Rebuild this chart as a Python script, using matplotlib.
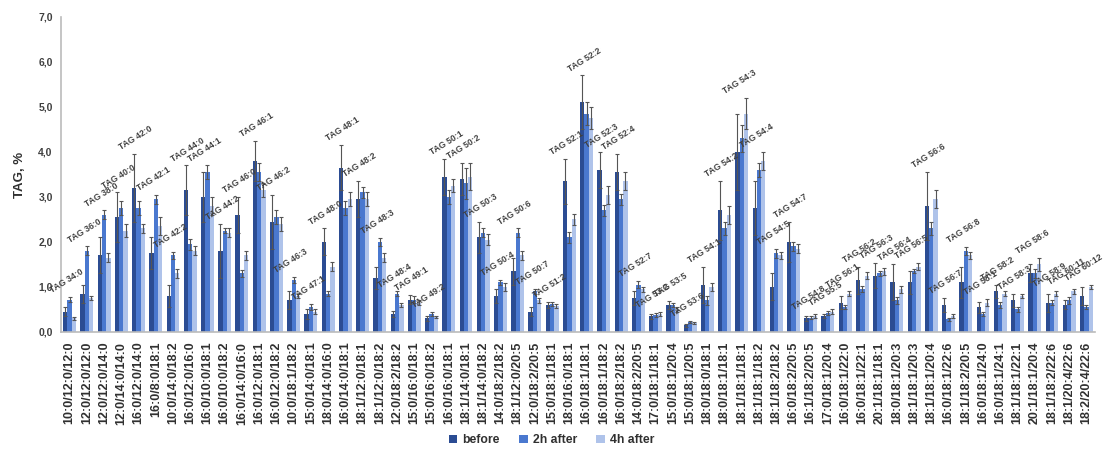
import numpy as np
import matplotlib
matplotlib.use("Agg")
import matplotlib.pyplot as plt
from matplotlib.ticker import FuncFormatter, MultipleLocator

plt.rcParams["font.family"] = ["Liberation Sans", "DejaVu Sans"]

# fatty acid composition of each TAG species
species = [
    "10:0/12:0/12:0", "12:0/12:0/12:0", "12:0/12:0/14:0", "12:0/14:0/14:0", "16:0/12:0/14:0",
    "16:0/8:0/18:1", "10:0/14:0/18:2", "16:0/12:0/16:0", "16:0/10:0/18:1", "16:0/10:0/18:2",
    "16:0/14:0/16:0", "16:0/12:0/18:1", "16:0/12:0/18:2", "10:0/18:1/18:2", "15:0/14:0/18:1",
    "18:0/14:0/16:0", "16:0/14:0/18:1", "18:1/12:0/18:1", "18:1/12:0/18:2", "12:0/18:2/18:2",
    "15:0/16:0/18:1", "15:0/16:0/18:2", "16:0/16:0/18:1", "18:1/14:0/18:1", "18:1/14:0/18:2",
    "14:0/18:2/18:2", "18:1/12:0/20:5", "12:0/18:2/20:5", "15:0/18:1/18:1", "18:0/16:0/18:1",
    "16:0/18:1/18:1", "16:0/18:1/18:2", "16:0/18:2/18:2", "14:0/18:2/20:5", "17:0/18:1/18:1",
    "15:0/18:1/20:4", "15:0/18:1/20:5", "18:0/18:0/18:1", "18:0/18:1/18:1", "18:1/18:1/18:1",
    "18:1/18:1/18:2", "18:1/18:2/18:2", "16:0/18:2/20:5", "16:1/18:2/20:5", "17:0/18:1/20:4",
    "16:0/18:1/22:0", "16:0/18:1/22:1", "20:1/18:1/18:1", "18:0/18:1/20:3", "18:1/18:1/20:3",
    "18:1/18:1/20:4", "16:0/18:1/22:6", "18:1/18:2/20:5", "16:0/18:1/24:0", "16:0/18:1/24:1",
    "18:1/18:1/22:1", "20:1/18:1/20:4", "18:1/18:2/22:6", "18:1/20:4/22:6", "18:2/20:4/22:6",
]

tags = [
    "TAG 34:0", "TAG 36:0", "TAG 38:0", "TAG 40:0", "TAG 42:0", "TAG 42:1", "TAG 42:2", "TAG 44:0",
    "TAG 44:1", "TAG 44:2", "TAG 46:0", "TAG 46:1", "TAG 46:2", "TAG 46:3", "TAG 47:1", "TAG 48:0",
    "TAG 48:1", "TAG 48:2", "TAG 48:3", "TAG 48:4", "TAG 49:1", "TAG 49:2", "TAG 50:1", "TAG 50:2",
    "TAG 50:3", "TAG 50:4", "TAG 50:6", "TAG 50:7", "TAG 51:2", "TAG 52:1", "TAG 52:2", "TAG 52:3",
    "TAG 52:4", "TAG 52:7", "TAG 53:2", "TAG 53:5", "TAG 53:6", "TAG 54:1", "TAG 54:2", "TAG 54:3",
    "TAG 54:4", "TAG 54:5", "TAG 54:7", "TAG 54:8", "TAG 55:5", "TAG 56:1", "TAG 56:2", "TAG 56:3",
    "TAG 56:4", "TAG 56:5", "TAG 56:6", "TAG 56:7", "TAG 56:8", "TAG 58:1", "TAG 58:2", "TAG 58:3",
    "TAG 58:6", "TAG 58:9", "TAG 60:11", "TAG 60:12",
]

before = [0.45, 0.85, 1.7, 2.55, 3.2, 1.75, 0.8, 3.15, 3.0, 1.8,
          2.6, 3.8, 2.45, 0.7, 0.4, 2.0, 3.65, 2.95, 1.2, 0.4,
          0.72, 0.3, 3.45, 3.4, 2.1, 0.8, 1.35, 0.45, 0.6, 3.35,
          5.1, 3.6, 3.55, 0.75, 0.35, 0.6, 0.15, 1.05, 2.7, 4.0,
          2.75, 1.0, 2.0, 0.3, 0.35, 0.65, 1.15, 1.25, 1.1, 1.1,
          2.8, 0.6, 1.1, 0.55, 0.9, 0.7, 1.3, 0.65, 0.6, 0.8]
before_err = [0.1, 0.2, 0.4, 0.55, 0.75, 0.35, 0.25, 0.55, 0.55, 0.6,
              0.4, 0.45, 0.6, 0.2, 0.12, 0.3, 0.5, 0.4, 0.25, 0.07,
              0.1, 0.06, 0.4, 0.35, 0.35, 0.15, 0.3, 0.1, 0.06, 0.5,
              0.6, 0.4, 0.4, 0.15, 0.06, 0.08, 0.03, 0.4, 0.65, 0.85,
              0.6, 0.3, 0.45, 0.05, 0.05, 0.15, 0.3, 0.28, 0.4, 0.25,
              0.75, 0.15, 0.35, 0.12, 0.15, 0.15, 0.2, 0.2, 0.1, 0.2]

after_2h = [0.72, 1.8, 2.6, 2.75, 2.75, 2.95, 1.7, 1.95, 3.55, 2.25,
            1.3, 3.55, 2.55, 1.15, 0.55, 0.85, 2.75, 3.1, 2.0, 0.85,
            0.72, 0.4, 3.0, 3.3, 2.2, 1.1, 2.2, 0.9, 0.62, 2.1,
            4.85, 2.7, 2.95, 1.05, 0.38, 0.6, 0.22, 0.7, 2.3, 4.3,
            3.6, 1.75, 1.9, 0.32, 0.42, 0.55, 0.95, 1.3, 0.7, 1.35,
            2.3, 0.28, 1.8, 0.4, 0.6, 0.5, 1.3, 0.65, 0.7, 0.55]
after_2h_err = [0.05, 0.1, 0.1, 0.15, 0.15, 0.1, 0.07, 0.12, 0.15, 0.05,
                0.07, 0.2, 0.15, 0.07, 0.07, 0.05, 0.15, 0.12, 0.08, 0.05,
                0.07, 0.04, 0.15, 0.35, 0.1, 0.05, 0.1, 0.05, 0.05, 0.12,
                0.25, 0.12, 0.12, 0.08, 0.05, 0.05, 0.03, 0.1, 0.15, 0.3,
                0.15, 0.1, 0.1, 0.04, 0.05, 0.05, 0.07, 0.05, 0.08, 0.05,
                0.15, 0.04, 0.08, 0.05, 0.06, 0.06, 0.1, 0.05, 0.07, 0.05]

after_4h = [0.3, 0.75, 1.65, 2.25, 2.3, 2.35, 1.3, 1.8, 2.8, 2.2,
            1.7, 3.15, 2.4, 0.8, 0.45, 1.45, 2.95, 2.95, 1.65, 0.6,
            0.65, 0.33, 3.25, 3.45, 2.05, 1.0, 1.7, 0.7, 0.58, 2.5,
            4.75, 3.05, 3.35, 0.95, 0.4, 0.5, 0.2, 1.0, 2.6, 4.85,
            3.8, 1.7, 1.85, 0.35, 0.45, 0.85, 1.25, 1.35, 0.95, 1.45,
            2.95, 0.35, 1.7, 0.65, 0.85, 0.8, 1.5, 0.85, 0.9, 1.0]
after_4h_err = [0.03, 0.05, 0.1, 0.15, 0.1, 0.2, 0.1, 0.1, 0.2, 0.1,
                0.1, 0.15, 0.15, 0.05, 0.05, 0.1, 0.15, 0.15, 0.1, 0.05,
                0.05, 0.03, 0.15, 0.3, 0.12, 0.08, 0.1, 0.06, 0.04, 0.12,
                0.25, 0.2, 0.2, 0.06, 0.04, 0.05, 0.03, 0.08, 0.2, 0.35,
                0.2, 0.08, 0.1, 0.04, 0.05, 0.05, 0.08, 0.08, 0.08, 0.08,
                0.2, 0.04, 0.08, 0.08, 0.06, 0.05, 0.15, 0.06, 0.05, 0.05]

series = [
    ("before", before, before_err, "#2B4C93"),
    ("2h after", after_2h, after_2h_err, "#4A78CF"),
    ("4h after", after_4h, after_4h_err, "#AFC3EA"),
]

fig = plt.figure(figsize=(11.03, 4.49), dpi=100)
ax = fig.add_axes([0.0553, 0.2606, 0.9375, 0.7016])

x = np.arange(len(species))
w = 0.25
for i, (name, vals, err, col) in enumerate(series):
    ax.bar(x + (i - 1) * w, vals, width=w, color=col, label=name,
           yerr=err, error_kw=dict(ecolor="#555555", elinewidth=0.8,
                                   capsize=1.2, capthick=0.8))

# species name above the highest whisker of each group
tops = np.max([np.add(v, e) for _, v, e, _ in series], axis=0)
for xi, top, lab in zip(x, tops, tags):
    ax.text(xi - 0.15, top + 0.05, lab, rotation=32, ha="center", va="bottom",
            fontsize=6.2, fontweight="bold", color="#404040")

ax.set_xlim(-0.5, len(species) - 0.5)
ax.set_ylim(0, 7)
ax.yaxis.set_major_locator(MultipleLocator(1))
ax.yaxis.set_major_formatter(FuncFormatter(lambda v, _: f"{v:.1f}".replace(".", ",")))
ax.set_xticks(x)
ax.set_xticklabels(species, rotation=90, fontsize=9, fontweight="bold", color="#303030")
ax.tick_params(axis="both", length=0)
ax.tick_params(axis="x", pad=7)
ax.tick_params(axis="y", labelsize=7.5, labelcolor="#404040", pad=6)
for lbl in ax.get_yticklabels():
    lbl.set_fontweight("bold")
ax.set_ylabel("TAG, %", fontsize=9.5, fontweight="bold", color="#303030", labelpad=9)

for side in ["top", "right"]:
    ax.spines[side].set_visible(False)
for side in ["left", "bottom"]:
    ax.spines[side].set_color("#BBBBBB")
    ax.spines[side].set_linewidth(1.2)

fig.legend(loc="lower center", bbox_to_anchor=(0.5, -0.018), ncol=3, frameon=False,
           prop=dict(size=8.8, weight="bold"), handlelength=0.7, handleheight=0.7,
           handletextpad=0.4, columnspacing=1.6, labelcolor="#303030")

fig.savefig("out.png", dpi=100)
